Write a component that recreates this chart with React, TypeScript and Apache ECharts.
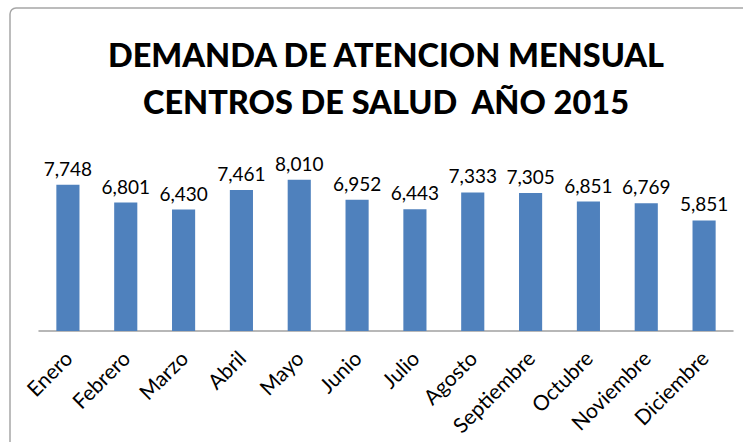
import React, { useEffect, useRef } from "react";
import * as echarts from "echarts";

const months = ["Enero", "Febrero", "Marzo", "Abril", "Mayo", "Junio", "Julio", "Agosto", "Septiembre", "Octubre", "Noviembre", "Diciembre"];
const demand = [7748, 6801, 6430, 7461, 8010, 6952, 6443, 7333, 7305, 6851, 6769, 5851];
const titleLines = ["DEMANDA DE ATENCION MENSUAL", "CENTROS DE SALUD  AÑO 2015"];

const FONT = "Lato, 'Open Sans', sans-serif";

export default function App() {
  const ref = useRef<HTMLDivElement>(null);
  useEffect(() => {
    if (!ref.current) return;
    const chart = echarts.init(ref.current, undefined, { renderer: "svg" });
    chart.setOption({
      animation: false,
      backgroundColor: "#ffffff",
      title: {
        text: titleLines.join("\n"),
        left: 381,
        textAlign: "center",
        top: 26,
        textStyle: {
          fontFamily: FONT,
          fontWeight: 900,
          fontSize: 32.5,
          lineHeight: 47,
          color: "#000000",
        },
      },
      graphic: [
        {
          type: "rect",
          shape: { x: 10, y: 8, width: 800, height: 500, r: 6 },
          style: { fill: "none", stroke: "#a6a6a6", lineWidth: 1.5 },
          silent: true,
        },
      ],
      grid: { left: 39, right: 10, top: 161, bottom: 111, containLabel: false },
      xAxis: {
        type: "category",
        data: months,
        axisLine: { show: true, lineStyle: { color: "#a0a0a0", width: 1.5 } },
        axisTick: { show: false },
        axisLabel: {
          rotate: 45,
          interval: 0,
          margin: 23,
          fontFamily: FONT,
          fontSize: 21,
          color: "#000000",
        },
      },
      yAxis: {
        type: "value",
        min: 0,
        max: 9000,
        show: false,
        splitLine: { show: false },
      },
      series: [
        {
          type: "bar",
          data: demand,
          barWidth: "40%",
          itemStyle: { color: "#4F81BD" },
          label: {
            show: true,
            position: "top",
            distance: 7,
            fontFamily: FONT,
            fontSize: 19,
            color: "#000000",
            formatter: (p: any) => p.value.toLocaleString("en-US"),
          },
        },
      ],
    });
    return () => chart.dispose();
  }, []);
  return <div ref={ref} style={{ position: "fixed", left: 0, top: 0, width: 743, height: 442 }} />;
}
